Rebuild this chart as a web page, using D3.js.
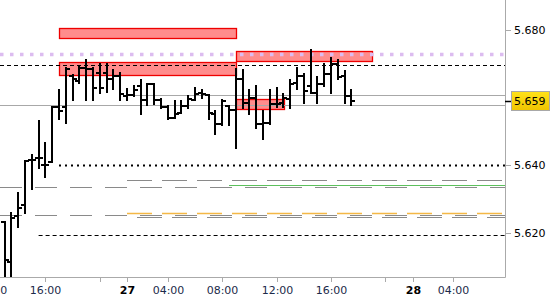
<!DOCTYPE html>
<html>
<head>
<meta charset="utf-8">
<script src="https://cdn.jsdelivr.net/npm/d3@7"></script>
<style>
body { margin: 0; background: #fff; }
svg { display: block; font-family: "DejaVu Sans", sans-serif; font-size: 11px; }
</style>
</head>
<body>
<div id="chart"></div>
<script>
// 30 minute bars
const barTimes = [
  "2021-05-26 13:00","2021-05-26 13:30","2021-05-26 14:00","2021-05-26 14:30","2021-05-26 15:00","2021-05-26 15:30",
  "2021-05-26 16:00","2021-05-26 16:30","2021-05-26 17:00","2021-05-26 17:30","2021-05-26 18:00","2021-05-26 18:30",
  "2021-05-26 19:00","2021-05-26 19:30","2021-05-26 20:00","2021-05-26 20:30","2021-05-26 21:00","2021-05-26 21:30",
  "2021-05-27 01:00","2021-05-27 01:30","2021-05-27 02:00","2021-05-27 02:30","2021-05-27 03:00","2021-05-27 03:30",
  "2021-05-27 04:00","2021-05-27 04:30","2021-05-27 05:00","2021-05-27 05:30","2021-05-27 06:00","2021-05-27 06:30",
  "2021-05-27 07:00","2021-05-27 07:30","2021-05-27 08:00","2021-05-27 08:30","2021-05-27 09:00","2021-05-27 09:30",
  "2021-05-27 10:00","2021-05-27 10:30","2021-05-27 11:00","2021-05-27 11:30","2021-05-27 12:00","2021-05-27 12:30",
  "2021-05-27 13:00","2021-05-27 13:30","2021-05-27 14:00","2021-05-27 14:30","2021-05-27 15:00","2021-05-27 15:30",
  "2021-05-27 16:00","2021-05-27 16:30","2021-05-27 17:00","2021-05-27 17:30"
]
const opens = [
  5.6232,5.6115,5.6250,5.6282,5.6415,5.6421,5.6400,5.6409,5.6571,5.6571,5.6665,5.6650,
  5.6688,5.6685,5.6674,5.6674,5.6656,5.6665,
  5.6606,5.6609,5.6635,5.6594,5.6641,5.6594,5.6571,5.6541,5.6556,5.6576,5.6594,5.6615,
  5.6609,5.6553,5.6521,5.6576,5.6565,5.6656,5.6585,5.6600,5.6521,5.6524,5.6582,5.6585,
  5.6597,5.6644,5.6665,5.6635,5.6615,5.6641,5.6671,5.6700,5.6665,5.6606
]
const highs = [
  5.6232,5.6259,5.6318,5.6412,5.6432,5.6532,5.6465,5.6571,5.6624,5.6688,5.6668,5.6694,
  5.6712,5.6688,5.6700,5.6700,5.6682,5.6674,
  5.6626,5.6635,5.6653,5.6641,5.6641,5.6597,5.6576,5.6591,5.6591,5.6606,5.6629,5.6624,
  5.6609,5.6562,5.6594,5.6576,5.6685,5.6682,5.6624,5.6635,5.6562,5.6624,5.6629,5.6612,
  5.6653,5.6688,5.6671,5.6741,5.6662,5.6700,5.6718,5.6712,5.6679,5.6624
]
const lows = [
  5.6030,5.6030,5.6218,5.6259,5.6329,5.6391,5.6365,5.6409,5.6538,5.6526,5.6594,5.6644,
  5.6594,5.6594,5.6615,5.6618,5.6626,5.6594,
  5.6594,5.6606,5.6553,5.6579,5.6582,5.6568,5.6538,5.6541,5.6556,5.6568,5.6594,5.6600,
  5.6538,5.6494,5.6518,5.6518,5.6450,5.6568,5.6553,5.6509,5.6479,5.6521,5.6571,5.6571,
  5.6568,5.6626,5.6585,5.6615,5.6585,5.6635,5.6615,5.6656,5.6585,5.6579
]
const closes = [
  5.6120,5.6244,5.6274,5.6412,5.6415,5.6421,5.6400,5.6571,5.6562,5.6685,5.6656,5.6688,
  5.6685,5.6629,5.6629,5.6656,5.6665,5.6612,
  5.6609,5.6624,5.6594,5.6641,5.6594,5.6571,5.6541,5.6553,5.6576,5.6597,5.6612,5.6612,
  5.6556,5.6521,5.6591,5.6565,5.6656,5.6585,5.6600,5.6521,5.6524,5.6582,5.6582,5.6600,
  5.6641,5.6665,5.6621,5.6615,5.6641,5.6671,5.6700,5.6662,5.6606,5.6591
]

// supply / demand zones
const zoneStarts  = ["2021-05-26 17:00","2021-05-26 17:00","2021-05-27 09:00","2021-05-27 09:00"]
const zoneEnds    = ["2021-05-27 09:00","2021-05-27 09:00","2021-05-27 19:00","2021-05-27 12:30"]
const zoneTops    = [5.6806, 5.6706, 5.6738, 5.6597]
const zoneBottoms = [5.6776, 5.6668, 5.6709, 5.6568]

// horizontal levels
const purpleLevel = 5.6729
const dashedLevels = [5.6697, 5.6193]
const greyLevels = [5.6609, 5.6579]
const dottedLevel = 5.6400
const longDashLevels = [5.6356, 5.6335, 5.6252, 5.6246]
const greenLevel = 5.6341
const orangeLevel = 5.6259
const lastPrice = 5.659

const yTicks = [5.620, 5.640, 5.680]
const xTickTimes = ["2021-05-26 12:00","2021-05-26 16:00","2021-05-26 20:00","2021-05-27 01:00","2021-05-27 04:00",
  "2021-05-27 08:00","2021-05-27 12:00","2021-05-27 16:00","2021-05-27 20:00","2021-05-28 01:00","2021-05-28 04:00"]
const xTickLabels = ["12:00","16:00","","27","04:00","08:00","12:00","16:00","","28","04:00"]

const width = 550, height = 300
const plotRight = 505, plotBottom = 277
const parse = d3.timeParse("%Y-%m-%d %H:%M")

// session gaps 22:00 - 01:00 collapse to one point
const x = d3.scaleTime()
  .domain(["2021-05-26 12:00","2021-05-26 22:00","2021-05-27 01:00","2021-05-27 22:00","2021-05-28 01:00","2021-05-28 06:00"].map(parse))
  .range([-9, 127, 127, 412.6, 412.6, 480.6])
const y = d3.scaleLinear().domain([5.620, 5.680]).range([233, 30])

const svg = d3.select("#chart").append("svg")
  .attr("width", width)
  .attr("height", height)

svg.append("defs").append("clipPath").attr("id", "plot")
  .append("rect").attr("x", 0).attr("y", 0).attr("width", plotRight).attr("height", plotBottom)

let plot = svg.append("g").attr("clip-path", "url(#plot)")

const py = v => Math.round(y(v)) + 0.5

// zones
zoneTops.forEach(function(top, i) {
  let x0 = x(parse(zoneStarts[i])), x1 = x(parse(zoneEnds[i]))
  plot.append("rect")
    .attr("x", Math.round(x0) + 0.5)
    .attr("y", py(top))
    .attr("width", Math.round(x1 - x0))
    .attr("height", Math.round(y(zoneBottoms[i]) - y(top)))
    .attr("fill", "rgba(255,0,0,0.45)")
    .attr("stroke", "#ee0000")
    .attr("stroke-width", 1.3)
})

function level(v, from, color, w, dash, offset) {
  plot.append("line")
    .attr("x1", from == null ? 0 : x(parse(from)))
    .attr("x2", plotRight)
    .attr("y1", py(v)).attr("y2", py(v))
    .attr("stroke", color)
    .attr("stroke-width", w)
    .attr("stroke-dasharray", dash)
    .attr("stroke-dashoffset", offset || 0)
}

level(purpleLevel, null, "#dcbcf0", 3.5, "3.5,6.5", 0)
level(dashedLevels[0], null, "#000", 1, "4,3")
level(dashedLevels[1], "2021-05-26 15:30", "#000", 1, "4,3")
level(greyLevels[0], "2021-05-27 01:00", "#a8a8a8", 1, null)
level(greyLevels[1], null, "#a8a8a8", 1, null)
level(dottedLevel, "2021-05-26 17:00", "#000", 2, "2,4")
level(longDashLevels[0], "2021-05-27 01:00", "#8a8a8a", 1, "25,10", 0)
level(longDashLevels[1], null, "#8a8a8a", 1, "22,13", 0)
level(greenLevel, "2021-05-27 08:30", "#5cc05c", 1.2, null)
level(orangeLevel, "2021-05-27 01:00", "#f4b846", 1.3, "25,10", 0)
level(longDashLevels[2], null, "#8a8a8a", 1, "22,13", 0)
level(longDashLevels[3], "2021-05-27 01:00", "#8a8a8a", 1, "25,10", -10)

// OHLC bars
let bars = plot.selectAll(".bar").data(barTimes).enter().append("g").attr("class", "bar")
  .attr("shape-rendering", "crispEdges")
bars.append("line")
  .attr("x1", d => Math.round(x(parse(d)))).attr("x2", d => Math.round(x(parse(d))))
  .attr("y1", (d, i) => y(highs[i]) - 1).attr("y2", (d, i) => y(lows[i]) + 1)
bars.append("line")
  .attr("x1", d => Math.round(x(parse(d))) - 4).attr("x2", d => Math.round(x(parse(d))))
  .attr("y1", (d, i) => Math.round(y(opens[i]))).attr("y2", (d, i) => Math.round(y(opens[i])))
bars.append("line")
  .attr("x1", d => Math.round(x(parse(d)))).attr("x2", d => Math.round(x(parse(d))) + 4)
  .attr("y1", (d, i) => Math.round(y(closes[i]))).attr("y2", (d, i) => Math.round(y(closes[i])))
bars.selectAll("line").attr("stroke", "#000").attr("stroke-width", 2)

// axes lines
svg.append("line").attr("x1", plotRight + 0.5).attr("x2", plotRight + 0.5).attr("y1", 0).attr("y2", plotBottom + 0.5)
  .attr("stroke", "#aaa")
svg.append("line").attr("x1", 0).attr("x2", plotRight + 0.5).attr("y1", plotBottom + 0.5).attr("y2", plotBottom + 0.5)
  .attr("stroke", "#aaa")

// right axis
let yAxis = svg.append("g")
yTicks.forEach(function(t) {
  yAxis.append("line").attr("x1", plotRight).attr("x2", plotRight + 6)
    .attr("y1", py(t)).attr("y2", py(t)).attr("stroke", "#aaa")
  yAxis.append("text").attr("x", plotRight + 9).attr("y", y(t) + 4).text(d3.format(".3f")(t))
})

// last price marker
svg.append("line").attr("x1", plotRight).attr("x2", plotRight + 6)
  .attr("y1", py(lastPrice)).attr("y2", py(lastPrice)).attr("stroke", "#000").attr("stroke-width", 1.5)
let grad = svg.select("defs").append("linearGradient").attr("id", "gold").attr("x1", 0).attr("x2", 0).attr("y1", 0).attr("y2", 1)
grad.append("stop").attr("offset", 0).attr("stop-color", "#ffe21a")
grad.append("stop").attr("offset", 1).attr("stop-color", "#f0c400")
svg.append("rect").attr("x", 511.5).attr("y", Math.round(y(lastPrice)) - 9.5).attr("width", 38).attr("height", 19)
  .attr("fill", "url(#gold)").attr("stroke", "#a8a8a8")
svg.append("text").attr("x", plotRight + 9).attr("y", y(lastPrice) + 4).text(d3.format(".3f")(lastPrice))

// bottom axis
let xAxis = svg.append("g")
xTickTimes.forEach(function(t, i) {
  let px = Math.round(x(parse(t))) + 0.5
  xAxis.append("line").attr("x1", px).attr("x2", px).attr("y1", plotBottom).attr("y2", plotBottom + 5).attr("stroke", "#aaa")
  let lbl = xTickLabels[i]
  if (lbl) {
    xAxis.append("text").attr("x", px).attr("y", 294).attr("text-anchor", "middle")
      .attr("fill", lbl.length == 2 ? "#000" : "#1c2a4a")
      .attr("font-weight", lbl.length == 2 ? "bold" : "normal")
      .text(lbl)
  }
})
</script>
</body>
</html>
